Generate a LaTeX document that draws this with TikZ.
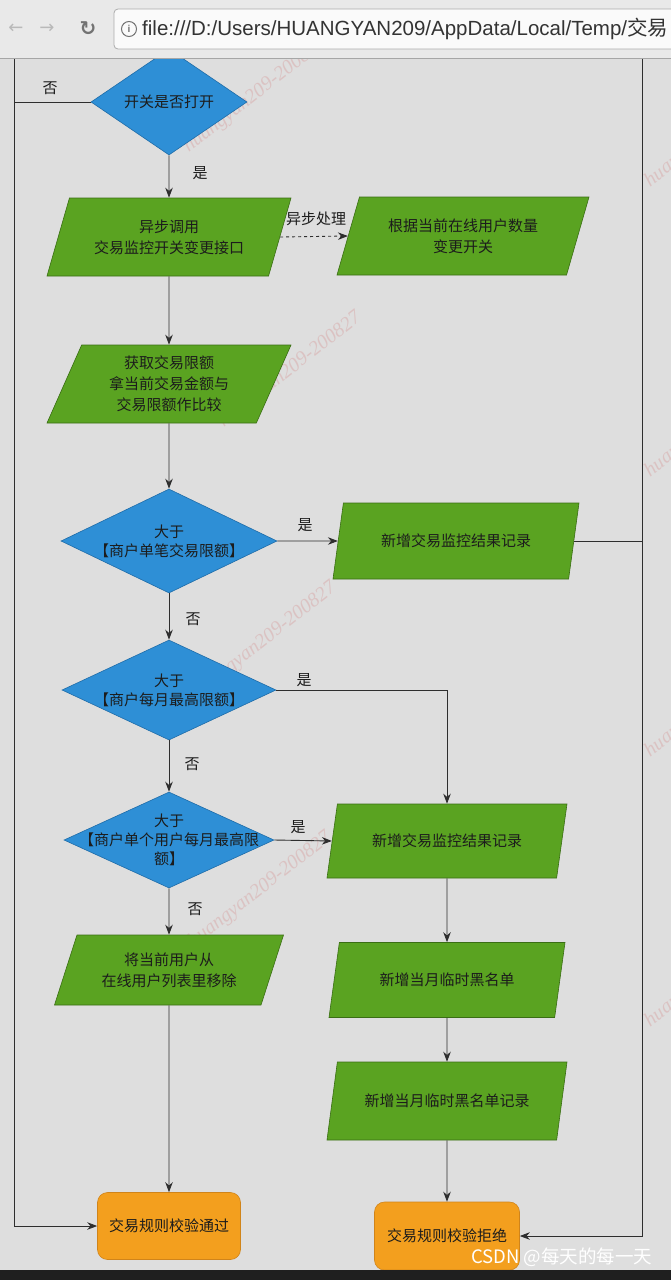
\documentclass[tikz,border=0pt]{standalone}
\usepackage{fontspec}
\setmainfont{Liberation Sans}
\newfontfamily\cjk{Noto Sans CJK SC}
\newfontfamily\dejavu{DejaVu Sans}
\newfontfamily\wmfont{Liberation Serif}
\usetikzlibrary{shapes.geometric,arrows.meta}
\definecolor{bgc}{HTML}{DEDEDE}
\definecolor{barc}{HTML}{E9E9E9}
\definecolor{decf}{HTML}{2E8FD6}
\definecolor{decb}{HTML}{1F6CA8}
\definecolor{iof}{HTML}{5AA321}
\definecolor{iob}{HTML}{3A6E14}
\definecolor{termf}{HTML}{F39F1E}
\definecolor{termb}{HTML}{D0841A}
\definecolor{linec}{HTML}{2E2E2E}
\definecolor{txtc}{HTML}{1C1C1C}
\definecolor{wmc}{HTML}{D8A8A8}
\tikzset{
  dec/.style={diamond, draw=decb, fill=decf, inner sep=0pt, line width=0.6pt},
  io/.style={trapezium, trapezium left angle=60, trapezium right angle=120,
    trapezium stretches body, draw=iob, fill=iof, line width=0.6pt,
    minimum height=78, minimum width=244, inner sep=2pt, align=center,
    text=txtc, font=\cjk\fontsize{15}{21}\selectfont},
  term/.style={rectangle, rounded corners=10, draw=termb, fill=termf, line width=0.6pt,
    minimum width=143, minimum height=67, text=txtc, font=\cjk\fontsize{15}{21}\selectfont},
  dtext/.style={align=center, text=txtc, font=\cjk\fontsize{15}{19}\selectfont},
  arr/.style={draw=linec, line width=0.9pt, -{Stealth[length=10pt,width=7.5pt]}},
  ln/.style={draw=linec, line width=0.9pt},
  lab/.style={text=txtc, font=\cjk\fontsize{15}{18}\selectfont},
  wm/.style={text=wmc, opacity=0.5, rotate=38, font=\wmfont\itshape\fontsize{20}{20}\selectfont},
}
\begin{document}
\begin{tikzpicture}[x=1pt,y=-1pt]
\useasboundingbox (0,0) rectangle (671,1280);
\clip (0,0) rectangle (671,1280);
% page background
\fill[bgc] (0,58) rectangle (671,1280);
% watermarks
\node[wm] (w1) at (255,95) {huangyan209-200827};
\node[wm] (w2) at (290,370) {huangyan209-200827};
\node[wm] (w3) at (265,640) {huangyan209-200827};
\node[wm] (w4) at (260,890) {huangyan209-200827};
\node[wm] (w5) at (690,150) {huangyan209};
\node[wm] (w6) at (690,440) {huangyan209};
\node[wm] (w7) at (690,720) {huangyan209};
\node[wm] (w8) at (690,990) {huangyan209};
% decision and process nodes
\node[dec, minimum width=156, minimum height=106,
      label={[dtext]center:开关是否打开}] (d1) at (169,102) {};
\node[io] (pa) at (169,237) {异步调用\\交易监控开关变更接口};
\node[io, minimum width=252] (pb) at (463,236) {根据当前在线用户数量\\变更开关};
\node[io] (pc) at (169,384) {获取交易限额\\拿当前交易金额与\\交易限额作比较};
\node[dec, minimum width=216, minimum height=104,
      label={[dtext]center:大于\\【商户单笔交易限额】}] (d2) at (169,541) {};
\node[io, minimum width=246, minimum height=76] (pd) at (456,541) {新增交易监控结果记录};
\node[dec, minimum width=214, minimum height=100,
      label={[dtext]center:大于\\【商户每月最高限额】}] (d3) at (169,690) {};
\node[dec, minimum width=210, minimum height=96,
      label={[dtext]center:大于\\【商户单个用户每月最高限\\额】}] (d4) at (169,840) {};
\node[io, minimum width=240, minimum height=74] (pe) at (447,841) {新增交易监控结果记录};
\node[io, minimum width=229, minimum height=70] (pf) at (169,970) {将当前用户从\\在线用户列表里移除};
\node[io, minimum width=236, minimum height=75] (pg) at (447,980) {新增当月临时黑名单};
\node[io, minimum width=240, minimum height=78] (ph) at (447,1101) {新增当月临时黑名单记录};
\node[term] (pass) at (169,1226) {交易规则校验通过};
\node[term, minimum width=145, minimum height=68] (rej) at (447,1236) {交易规则校验拒绝};
% side loop coordinates
\coordinate (ltop) at (14,58);
\coordinate (rtop) at (642,58);
% connectors
\draw[ln] (d1.west) -- (d1.west -| ltop);
\draw[arr] (ltop) |- (pass.west);
\node[lab] (l1) at (50,88) {否};
\draw[arr] (d1.south) -- (pa.north);
\node[lab] (l2) at (200,173) {是};
\draw[arr, dashed] (pa.east) -- (pb.west);
\node[lab] (l3) at (316,219) {异步处理};
\draw[arr] (pa.south) -- (pc.north);
\draw[arr] (pc.south) -- (d2.north);
\draw[arr] (d2.east) -- (pd.west);
\node[lab] (l4) at (305,525) {是};
\draw[ln] (pd.east) -- (pd.east -| rtop);
\draw[arr] (rtop) |- (rej.east);
\draw[arr] (d2.south) -- (d3.north);
\node[lab] (l5) at (193,619) {否};
\draw[arr] (d3.east) -| (pe.north);
\node[lab] (l6) at (304,680) {是};
\draw[arr] (d3.south) -- (d4.north);
\node[lab] (l7) at (192,764) {否};
\draw[arr] (d4.east) -- (pe.west);
\node[lab] (l8) at (298,827) {是};
\draw[arr] (d4.south) -- (pf.north);
\node[lab] (l9) at (195,909) {否};
\draw[arr] (pf.south) -- (pass.north);
\draw[arr] (pe.south) -- (pg.north);
\draw[arr] (pg.south) -- (ph.north);
\draw[arr] (ph.south) -- (rej.north);
% taskbar and site watermark
\fill[black!88] (0,1270) rectangle (671,1280);
\node[anchor=east, text=white, font=\cjk\fontsize{18.5}{18.5}\selectfont] (csdn) at (656,1257) {CSDN @每天的每一天};
% browser bar (drawn last, covers the page top)
\fill[barc] (0,0) rectangle (671,58);
\draw[gray!70, line width=0.6pt] (0,58) -- (671,58);
\draw[rounded corners=4, draw=gray!65, fill=white!96!gray, line width=0.8pt] (114,9) rectangle (700,49);
\node (back) at (16,29) {\dejavu\fontsize{18}{18}\selectfont\color{gray!55}←};
\node (fwd) at (47,29) {\dejavu\fontsize{18}{18}\selectfont\color{gray!55}→};
\node (reload) at (88,29) {\dejavu\bfseries\fontsize{20}{20}\selectfont\color{gray!90!black}↻};
\node[circle, draw=gray!90!black, line width=1pt, minimum size=15pt, inner sep=0pt,
      font=\fontsize{10}{10}\selectfont\bfseries, text=gray!90!black] (info) at (129,29) {i};
\node[anchor=west, inner sep=0pt, text=black!80, font=\fontsize{20.5}{20.5}\selectfont] (url) at (142,29)
  {file:///D:/Users/HUANGYAN209/AppData/Local/Temp/{\cjk 交易}};
\end{tikzpicture}
\end{document}
